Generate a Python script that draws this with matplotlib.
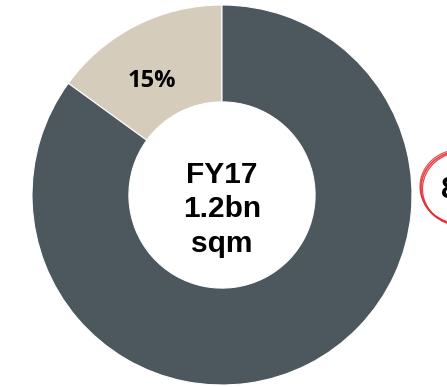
import matplotlib.pyplot as plt
from matplotlib.patches import Ellipse

# Share of FY17 area
labels = ['Other', 'Core']
shares = [15, 85]
colors = ['#D5CCBB', '#4D575E']
centre_text = 'FY17\n1.2bn\nsqm'

W, H = 447, 387
fig = plt.figure(figsize=(W / 100, H / 100), dpi=100)

# donut sits at pixel (222, 195) with radius 190
cx, cy, r = 222, 195, 190
ax = fig.add_axes([(cx - r) / W, (H - cy - r) / H, 2 * r / W, 2 * r / H])
wedges, _ = ax.pie(shares, colors=colors, startangle=90, counterclock=True,
                   radius=1, wedgeprops=dict(width=0.51, edgecolor='white', linewidth=0.8))
ax.set_xlim(-1, 1)
ax.set_ylim(-1, 1)
ax.set_aspect('equal')
ax.axis('off')

ax.text(0, -0.075, centre_text, ha='center', va='center', fontsize=21.5,
        fontweight='bold', family='Liberation Sans', linespacing=1.3)

# small slice label
ax.text(-0.37, 0.6, f'{shares[0]}%', ha='center', va='center', fontsize=17,
        fontweight='bold', family='Open Sans')

# big slice label, runs off the right edge with a red ring round it
fig.text(441 / W, 1 - 190 / H, f'{shares[1]}%', ha='left', va='center',
         fontsize=20, fontweight='bold', family='Open Sans')
for dx, dy, lw in [(0, 0, 1.3), (1.5, 1, 0.9), (-1, -1.5, 0.8)]:
    e = Ellipse(((461 + dx) / W, 1 - (188 + dy) / H), 80 / W, 74 / H,
                transform=fig.transFigure, fill=False, edgecolor='#E3262B',
                linewidth=lw, alpha=0.85)
    fig.add_artist(e)

fig.savefig('out.png', dpi=100)
